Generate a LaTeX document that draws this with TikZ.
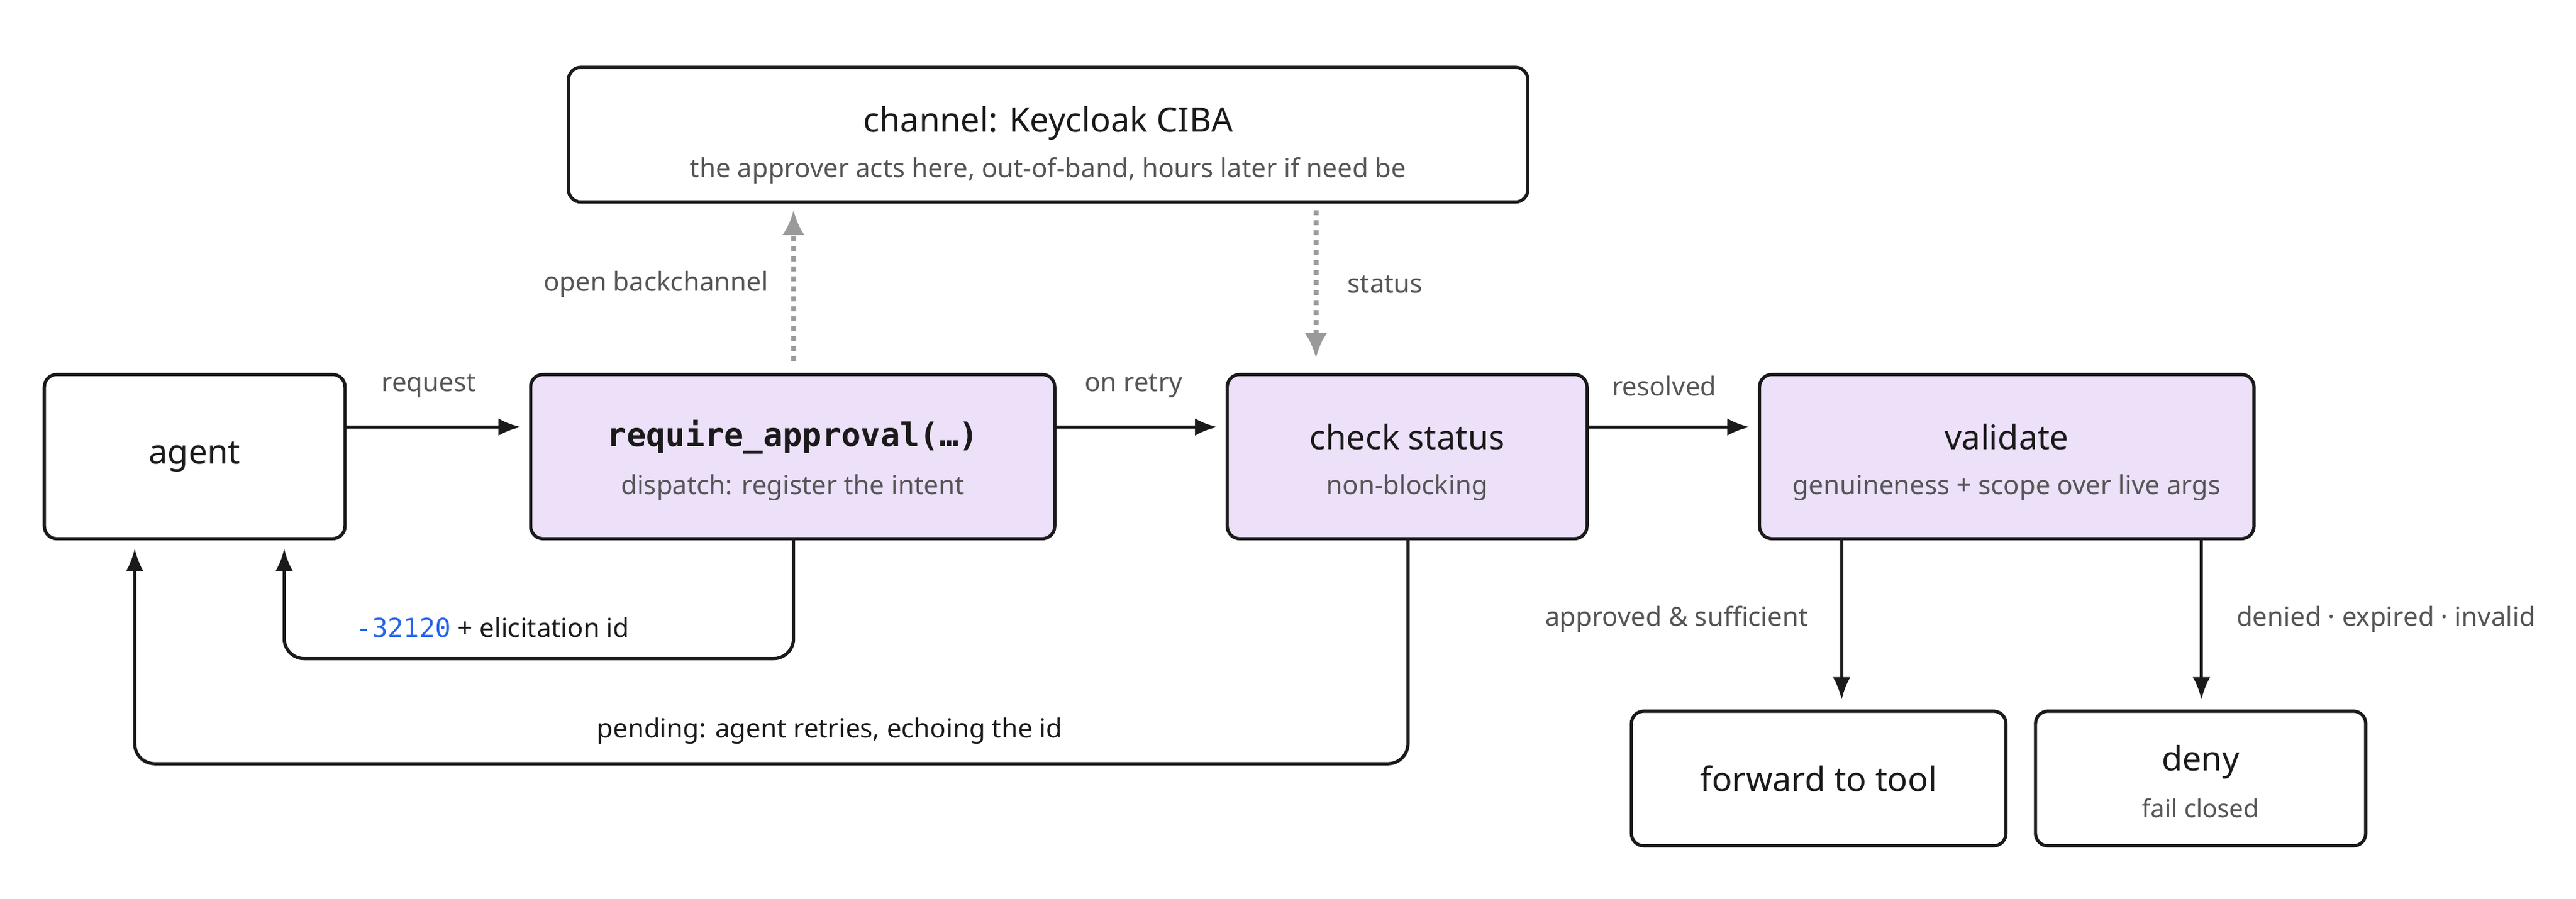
\documentclass[tikz,border=0pt]{standalone}
\usepackage{fontspec}
\setmainfont{Noto Sans}
\newfontfamily\monof{DejaVu Sans Mono}
\usetikzlibrary{arrows.meta}
\definecolor{bd}{HTML}{1A1A1A}
\definecolor{pf}{HTML}{EDE0F9}
\definecolor{gt}{HTML}{555555}
\definecolor{bl}{HTML}{2563EB}
\definecolor{dg}{HTML}{9A9A9A}
\begin{document}
\begin{tikzpicture}[x=0.658pt,y=-0.658pt,
  box/.style={draw=bd,line width=1.3pt,rounded corners=5pt},
  pbox/.style={box,fill=pf},
  ttl/.style={font=\fontsize{13.5}{16}\selectfont,text=bd},
  sub/.style={font=\fontsize{10.5}{13}\selectfont,text=gt},
  lab/.style={font=\fontsize{10.5}{13}\selectfont,text=gt},
  arr/.style={draw=bd,line width=1.3pt,-{Latex[length=9pt,width=7pt]}},
  dot/.style={draw=dg,line width=2pt,dotted,-{Latex[length=10pt,width=9pt]}}]
\useasboundingbox (0,0) rectangle (1568,547);
\draw[box] (27,228) rectangle (210,328);
\node[ttl] (agent) at (118.5,278) {agent};
\draw[pbox] (323,228) rectangle (642,328);
\node[ttl,font=\monof\bfseries\fontsize{13}{16}\selectfont] (ra) at (482.5,266) {require\_approval(…)};
\node[sub] (ras) at (482.5,297) {dispatch: register the intent};
\draw[pbox] (747,228) rectangle (966,328);
\node[ttl] (cs) at (856.5,266) {check status};
\node[sub] (css) at (856.5,297) {non-blocking};
\draw[pbox] (1071,228) rectangle (1372,328);
\node[ttl] (va) at (1221.5,266) {validate};
\node[sub] (vas) at (1221.5,297) {genuineness + scope over live args};
\draw[box] (346,41) rectangle (930,123);
\node[ttl] (ch) at (638,75) {channel: Keycloak CIBA};
\node[sub] (chs) at (638,104) {the approver acts here, out-of-band, hours later if need be};
\draw[box] (993,433) rectangle (1221,515);
\node[ttl] (fw) at (1107,474) {forward to tool};
\draw[box] (1239,433) rectangle (1440,515);
\node[ttl] (dn) at (1339.5,464) {deny};
\node[sub,font=\fontsize{10}{12}\selectfont] (dns) at (1339.5,492) {fail closed};
\coordinate (a1) at (210,260); \coordinate (a2) at (317,260);
\coordinate (b1) at (642,260); \coordinate (b2) at (741,260);
\coordinate (c1) at (966,260); \coordinate (c2) at (1065,260);
\draw[arr] (a1) -- (a2); \node[lab] (l1) at (261,235) {request};
\draw[arr] (b1) -- (b2); \node[lab] (l2) at (690,235) {on retry};
\draw[arr] (c1) -- (c2); \node[lab] (l3) at (1013,235) {resolved};
\coordinate (u1) at (483,220); \coordinate (u2) at (483,128);
\draw[dot] (u1) -- (u2); \node[lab,anchor=east] (l4) at (473,173) {open backchannel};
\coordinate (d1) at (801,128); \coordinate (d2) at (801,218);
\draw[dot] (d1) -- (d2); \node[lab,anchor=west] (l5) at (815,173) {status};
\coordinate (r0) at (483,328); \coordinate (r1) at (173,334);
\draw[arr,rounded corners=8pt] (r0) -- (483,401) -- (173,401) -- (r1);
\node[font=\fontsize{10.5}{13}\selectfont,text=bd] (l6) at (300,382) {{\monof\color{bl}-32120} + elicitation id};
\coordinate (p0) at (857,328); \coordinate (p1) at (82,334);
\draw[arr,rounded corners=8pt] (p0) -- (857,465) -- (82,465) -- (p1);
\node[font=\fontsize{10.5}{13}\selectfont,text=bd] (l7) at (505,445) {pending: agent retries, echoing the id};
\coordinate (v0) at (1121,328); \coordinate (v1) at (1121,426);
\draw[arr] (v0) -- (v1); \node[lab,anchor=east] (l8) at (1106,377) {approved \& sufficient};
\coordinate (w0) at (1340,328); \coordinate (w1) at (1340,426);
\draw[arr] (w0) -- (w1); \node[lab,anchor=west] (l9) at (1356,377) {denied · expired · invalid};
\end{tikzpicture}
\end{document}
